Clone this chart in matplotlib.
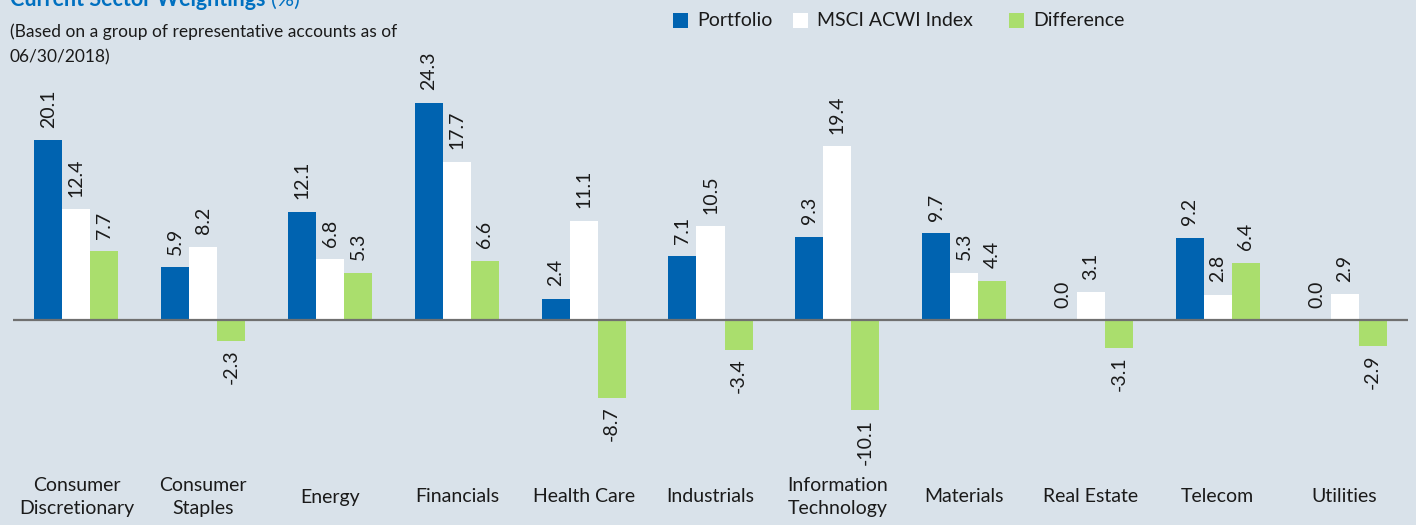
import matplotlib
matplotlib.use('Agg')
import matplotlib.pyplot as plt
from matplotlib.patches import Rectangle
from matplotlib.transforms import blended_transform_factory
import numpy as np

# Data
sectors = ['Consumer\nDiscretionary', 'Consumer\nStaples', 'Energy', 'Financials',
           'Health Care', 'Industrials', 'Information\nTechnology', 'Materials',
           'Real Estate', 'Telecom', 'Utilities']
portfolio = [20.1, 5.9, 12.1, 24.3, 2.4, 7.1, 9.3, 9.7, 0.0, 9.2, 0.0]
msci_acwi = [12.4, 8.2, 6.8, 17.7, 11.1, 10.5, 19.4, 5.3, 3.1, 2.8, 2.9]
difference = [7.7, -2.3, 5.3, 6.6, -8.7, -3.4, -10.1, 4.4, -3.1, 6.4, -2.9]

series_names = ['Portfolio', 'MSCI ACWI Index', 'Difference']
series_colors = ['#0063B0', '#FFFFFF', '#AADE6D']
bg = '#D9E2EA'

plt.rcParams['font.family'] = ['Lato', 'DejaVu Sans']
plt.rcParams['text.color'] = '#1A1A1A'

fig = plt.figure(figsize=(14.16, 5.25), dpi=100, facecolor=bg)
W, H = 1416, 525
# axes placed so the zero line sits where the reference has it
ax = fig.add_axes([13 / W, (H - 420) / H, 1395 / W, 360 / H])
ax.set_facecolor(bg)
ax.set_xlim(-0.5, 10.5)
ax.set_ylim(-100 / 8.95, 260 / 8.95)
ax.axis('off')

x = np.arange(len(sectors))
width = 0.221
offsets = [-width, 0, width]
all_series = [portfolio, msci_acwi, difference]

for vals, off, color in zip(all_series, offsets, series_colors):
    ax.bar(x + off, vals, width, color=color, linewidth=0, zorder=2)
    for xi, v in zip(x + off, vals):
        if v >= 0:
            ax.annotate(f'{v:.1f}', (xi, v), xytext=(0, 9), textcoords='offset points',
                        rotation=90, ha='center', va='bottom', fontsize=14)
        else:
            ax.annotate(f'{v:.1f}', (xi, v), xytext=(0, -6), textcoords='offset points',
                        rotation=90, ha='center', va='top', fontsize=14)

ax.axhline(0, color='#707070', linewidth=1.6, zorder=3)

# category labels along the bottom
trans = blended_transform_factory(ax.transData, fig.transFigure)
for xi, name in zip(x, sectors):
    ax.text(xi, 1 - 497 / H, name, transform=trans, ha='center', va='center',
            fontsize=14, linespacing=1.45)

# title (partly cut off at the top, as in the reference) and subtitle
t = fig.text(10 / W, 1 - 6 / H, 'Current Sector Weightings', color='#0070C0',
             fontsize=15.5, fontweight='bold', va='baseline', ha='left')
fig.canvas.draw()
bb = t.get_window_extent()
fig.text((bb.x1 + 6) / W, 1 - 6 / H, '(%)', color='#0070C0', fontsize=15.5,
         va='baseline', ha='left')
fig.text(10 / W, 1 - 32 / H, '(Based on a group of representative accounts as of',
         fontsize=12.5, va='center', ha='left')
fig.text(10 / W, 1 - 57 / H, '06/30/2018)', fontsize=12.5, va='center', ha='left')

# legend drawn as squares + labels at the reference positions
legend_x = [673, 793, 1009]
for lx, name, color in zip(legend_x, series_names, series_colors):
    fig.patches.append(Rectangle((lx / W, 1 - 28 / H), 15 / W, 15 / H,
                                 transform=fig.transFigure, facecolor=color,
                                 edgecolor='none'))
    fig.text((lx + 24) / W, 1 - 21 / H, name, fontsize=14, va='center', ha='left')

fig.savefig('out.png', dpi=100, facecolor=bg)
